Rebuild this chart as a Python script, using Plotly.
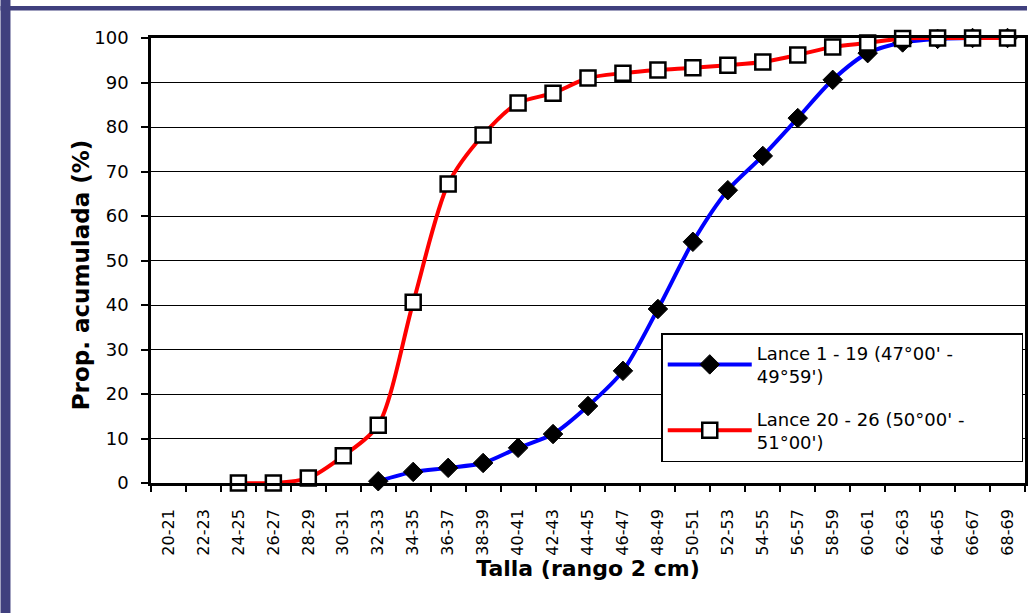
import plotly.graph_objects as go

categories = ["20-21", "22-23", "24-25", "26-27", "28-29", "30-31", "32-33", "34-35",
              "36-37", "38-39", "40-41", "42-43", "44-45", "46-47", "48-49", "50-51",
              "52-53", "54-55", "56-57", "58-59", "60-61", "62-63", "64-65", "66-67", "68-69"]

lance1_x = categories[6:]
lance1_y = [0.4, 2.5, 3.4, 4.5, 7.9, 11.0, 17.3, 25.2, 39.1, 54.2, 65.8, 73.5,
            82.0, 90.6, 96.6, 99.0, 99.8, 100.0, 100.0]

lance2_x = categories[2:]
lance2_y = [0.0, 0.0, 1.1, 6.1, 13.0, 40.6, 67.2, 78.2, 85.4, 87.6, 91.0, 92.1,
            92.8, 93.3, 93.9, 94.6, 96.2, 98.0, 98.9, 99.9, 100.0, 100.0, 100.0]

pad = "&nbsp;" * 9
name1 = "Lance 1 - 19 (47°00' -" + pad + "<br>49°59')"
name2 = "Lance 20 - 26 (50°00' -" + pad + "<br>51°00')"

FONT = "DejaVu Sans, Liberation Sans, Arial, sans-serif"

fig = go.Figure()
fig.add_trace(go.Scatter(
    x=lance1_x, y=lance1_y, name=name1, mode="lines+markers", legendgroup="g1",
    line=dict(color="#0000ff", width=4, shape="spline", smoothing=0.8),
    marker=dict(symbol="diamond", size=15, color="black", line=dict(color="black", width=1)),
    cliponaxis=False,
))
fig.add_trace(go.Scatter(
    x=lance2_x, y=lance2_y, name=name2, mode="lines+markers", legendgroup="g2",
    line=dict(color="#ff0000", width=4, shape="spline", smoothing=0.8),
    marker=dict(symbol="square", size=15, color="white", line=dict(color="black", width=2.5)),
    cliponaxis=False,
))

W, H = 1030, 613
L, R, T, B = 151, 2, 38, 130
pw = W - L - R
ph = H - T - B

def px(x):
    return (x - L) / pw

def py(y):
    return (H - B - y) / ph

frame = "#40407e"
shapes = [
    dict(type="rect", xref="paper", yref="paper", x0=px(0), x1=px(10), y0=py(613), y1=py(0),
         fillcolor=frame, line=dict(width=0), layer="below"),
    dict(type="rect", xref="paper", yref="paper", x0=px(0), x1=px(1030), y0=py(10.5), y1=py(6),
         fillcolor=frame, line=dict(width=0), layer="below"),
]

annotations = [
    dict(text="<b>Prop. acumulada (%)</b>", xref="paper", yref="paper",
         x=px(81), y=py(275), xanchor="center", yanchor="middle", textangle=-90,
         showarrow=False, font=dict(family=FONT, size=23, color="black")),
]

fig.update_layout(
    width=W, height=H,
    margin=dict(l=L, r=R, t=T, b=B, pad=0),
    paper_bgcolor="white", plot_bgcolor="white",
    font=dict(family=FONT, color="black", size=18),
    shapes=shapes,
    annotations=annotations,
    showlegend=True,
    legend=dict(
        x=px(663), y=py(333), xanchor="left", yanchor="top",
        bgcolor="white", bordercolor="black", borderwidth=1.5,
        font=dict(family=FONT, size=18, color="black"),
        itemwidth=84, tracegroupgap=16, traceorder="grouped",
    ),
    xaxis=dict(
        type="category", categoryorder="array", categoryarray=categories,
        range=[-0.5, len(categories) - 0.5],
        showgrid=False, zeroline=False,
        showline=True, linecolor="black", linewidth=2.5, mirror=True,
        ticks="outside", ticklen=6, tickwidth=1.5, tickcolor="black", tickson="boundaries",
        tickangle=-90, tickfont=dict(family=FONT, size=16, color="black"),
        ticklabelstandoff=17,
        title=dict(text="<b>Talla (rango 2 cm)</b>", font=dict(family=FONT, size=22, color="black"),
                   standoff=6),
    ),
    yaxis=dict(
        range=[0, 100], dtick=10, tick0=0,
        showgrid=True, gridcolor="black", gridwidth=1, zeroline=False,
        showline=True, linecolor="black", linewidth=2.5, mirror=True,
        ticks="outside", ticklen=7, tickwidth=1.5, tickcolor="black",
        tickfont=dict(family=FONT, size=18, color="black"),
        ticklabelstandoff=9,
    ),
)

fig.write_html("out.html", config={"displayModeBar": False},
               post_script="document.body.style.margin='0';document.body.style.overflow='hidden';")
